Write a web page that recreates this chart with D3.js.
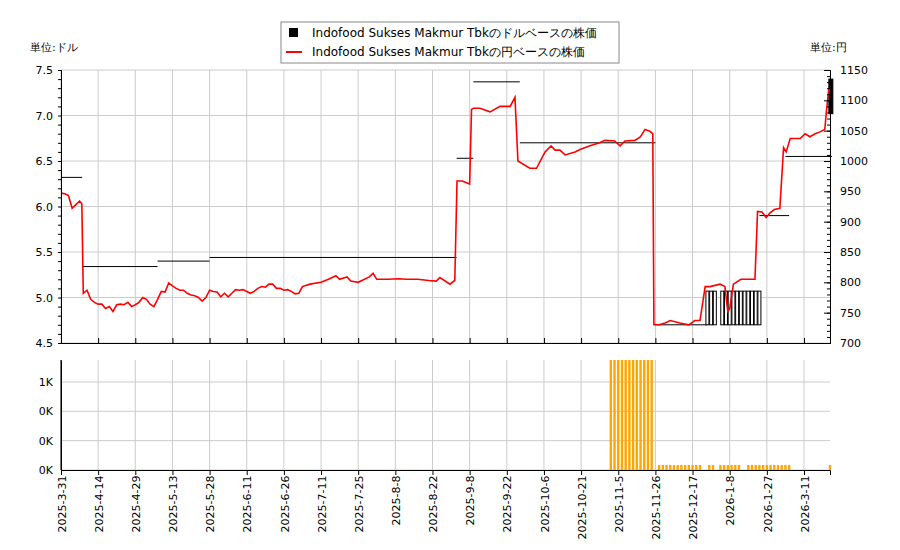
<!DOCTYPE html>
<html>
<head>
<meta charset="utf-8">
<script src="https://d3js.org/d3.v7.min.js"></script>
<style>
  body { margin: 0; background: #fff; }
  text { font-family: "DejaVu Sans", sans-serif; }
</style>
</head>
<body>
<svg id="chart" width="900" height="550"></svg>
<script>
// tick labels (one every 10 trading points)
var dateTicks = ["2025-3-31","2025-4-14","2025-4-29","2025-5-13","2025-5-28","2025-6-11","2025-6-26","2025-7-11","2025-7-25","2025-8-8","2025-8-22","2025-9-8","2025-9-22","2025-10-6","2025-10-21","2025-11-5","2025-11-26","2025-12-17","2026-1-8","2026-1-27","2026-3-11"];
var nPoints = 208;

// yen price: point index and value
var yenIdx = [0,1,2,3,4,5,5.6,6,7,8,9,10,11,12,13,14,15,16,17,18,19,20,21,22,23,24,25,26,27,28,29,30,31,32,33,34,35,36,37,38,39,40,41,42,43,44,45,46,47,48,49,50,51,52,53,54,55,56,57,58,59,60,61,62,63,64,65,67,70,72,74,75,77,78,80,83,84,85,88,91,93,96,99,101,102,104.7,106,106.6,108,110,110.5,111,112.8,115.5,118.2,120.9,122.2,123,126.2,128,130.3,131.9,133,134.3,135.7,138.4,139.7,142.4,145,146.4,149,150.5,151.8,154.5,156,157.2,158.5,159.3,159.6,161,162.6,164,166.6,169,170.6,172,173.4,174.7,177.4,178.7,179.5,180,181,183,186.8,187.5,188.7,189.8,190.8,192,193.5,194.5,195.2,196.3,199,200.3,201.6,203,204.3,205.6,206,206.7,207];
var yenVal = [947,946,943,922,928,934,930,782,787,772,767,764,764,757,760,752,763,764,763,767,760,763,767,775,772,764,760,772,785,784,799,794,790,787,787,782,779,778,775,769,775,787,785,784,776,782,776,782,788,787,788,785,782,785,790,793,792,797,797,790,790,787,788,785,781,782,793,797,800,805,811,805,809,802,800,809,815,805,805,806,805,805,803,802,808,797,803,967,967,962,1085,1087,1087,1081,1090,1090,1105,1000,988,988,1015,1025,1018,1018,1010,1015,1019,1025,1030,1034,1033,1025,1033,1034,1040,1052,1049,1045,730,730,733,737,733,730,737,737,793,793,797,793,752,757,797,805,805,917,916,907,914,920,922,1022,1015,1037,1037,1045,1040,1045,1048,1052,1080,1120,1115];

// USD price, flat segments: from index, to index, value
var usdFrom = [0,5.7,26,40,106.5,111,123.5,160,188,195];
var usdTo   = [5.7,26,40,106.5,111,123.5,160,174,196,207.5];
var usdVal  = [6.32,5.34,5.40,5.44,6.53,7.37,6.70,4.70,5.90,6.55];
// USD candles: index, low, high
var candleIdx = [174,175,176,178,179,180,181,182,183,184,185,186,187,188,207.5];
var candleLo  = [4.70,4.70,4.70,4.70,4.70,4.70,4.70,4.70,4.70,4.70,4.70,4.70,4.70,4.70,7.02];
var candleHi  = [5.07,5.07,5.07,5.07,5.07,5.07,5.07,5.07,5.07,5.07,5.07,5.07,5.07,5.07,7.40];

// volume
var volIdx = [148,149,150,151,152,153,154,155,156,157,158,159,161,162,163,164,165,166,167,168,169,170,171,172,174.5,175.5,177.5,178.5,179.5,180.5,181.5,182.5,185,186,187,188,189,190,191,192,193,194,195,196,207];
var volVal = [1312,1312,1312,1312,1312,1312,1312,1312,1312,1312,1312,1312,60,60,60,60,60,60,60,60,60,60,60,60,60,60,60,60,60,60,60,60,60,60,60,60,60,60,60,60,60,60,60,60,60];

var svg = d3.select("#chart");
var x = d3.scaleLinear().domain([0, nPoints - 1]).range([61, 830]);
var yL = d3.scaleLinear().domain([4.5, 7.5]).range([343, 70]);
var yR = d3.scaleLinear().domain([700, 1150]).range([343, 70]);
var yV = d3.scaleLinear().domain([0, 1312]).range([470, 360]);
var tickIdx = dateTicks.map(function(d, i) { return i * 10; });

// grid
var g = svg.append("g").attr("stroke", "#ccc").attr("stroke-width", 1);
tickIdx.forEach(function(t) {
  g.append("line").attr("x1", x(t)).attr("x2", x(t)).attr("y1", 70).attr("y2", 343);
  g.append("line").attr("x1", x(t)).attr("x2", x(t)).attr("y1", 360).attr("y2", 470);
});
d3.range(4.5, 7.51, 0.5).forEach(function(v) {
  g.append("line").attr("x1", 61).attr("x2", 830).attr("y1", yL(v)).attr("y2", yL(v));
});
[0, 350, 700, 1050].forEach(function(v) {
  g.append("line").attr("x1", 61).attr("x2", 830).attr("y1", yV(v)).attr("y2", yV(v));
});

// volume bars
svg.selectAll(".vol").data(volIdx).enter().append("rect")
  .attr("x", function(d) { return x(d) - 1.2; })
  .attr("width", 2.4)
  .attr("y", function(d, i) { return yV(volVal[i]); })
  .attr("height", function(d, i) { return 470 - yV(volVal[i]); })
  .attr("fill", "orange");

// usd segments
svg.selectAll(".seg").data(usdVal).enter().append("line")
  .attr("x1", function(d, i) { return x(usdFrom[i]); })
  .attr("x2", function(d, i) { return x(usdTo[i]); })
  .attr("y1", function(d) { return yL(d); })
  .attr("y2", function(d) { return yL(d); })
  .attr("stroke", "#000").attr("stroke-width", 1);

// usd candles
svg.selectAll(".cd").data(candleIdx).enter().append("rect")
  .attr("x", function(d, i) { return i === candleIdx.length - 1 ? x(d) - 3 : x(d) - 1.5; })
  .attr("width", function(d, i) { return i === candleIdx.length - 1 ? 4 : 3; })
  .attr("y", function(d, i) { return yL(candleHi[i]); })
  .attr("height", function(d, i) { return yL(candleLo[i]) - yL(candleHi[i]); })
  .attr("fill", function(d, i) { return i === candleIdx.length - 1 ? "#000" : "#fff"; })
  .attr("stroke", "#000").attr("stroke-width", 1);

// yen line
var line = d3.line()
  .x(function(d) { return x(d); })
  .y(function(d, i) { return yR(yenVal[i]); });
svg.append("path").attr("d", line(yenIdx))
  .attr("fill", "none").attr("stroke", "red").attr("stroke-width", 1.6);

// axes
function styleAxis(sel) {
  sel.selectAll("text").attr("font-size", 11).attr("fill", "#000");
  sel.select(".domain").attr("stroke", "#000");
}
var minor = d3.range(4.5, 7.501, 0.1);
svg.append("g").attr("transform", "translate(61,0)")
  .call(d3.axisLeft(yL).tickValues(minor).tickSize(3).tickFormat("")).call(styleAxis);
svg.append("g").attr("transform", "translate(61,0)")
  .call(d3.axisLeft(yL).tickValues(d3.range(4.5, 7.51, 0.5)).tickSize(0).tickPadding(8).tickFormat(d3.format(".1f")))
  .call(styleAxis);
svg.append("g").attr("transform", "translate(830,0)")
  .call(d3.axisRight(yR).tickValues(d3.range(700, 1151, 10)).tickSize(-3).tickFormat("")).call(styleAxis);
svg.append("g").attr("transform", "translate(830,0)")
  .call(d3.axisRight(yR).tickValues(d3.range(700, 1151, 50)).tickSize(-6).tickPadding(10).tickFormat(d3.format("d")))
  .call(styleAxis);
svg.append("g").attr("transform", "translate(0,343)")
  .call(d3.axisBottom(x).tickValues(tickIdx).tickSize(-5).tickFormat("")).call(styleAxis);
svg.append("line").attr("x1", 61).attr("x2", 61).attr("y1", 360).attr("y2", 470).attr("stroke", "#000");
svg.append("g").attr("transform", "translate(61,0)")
  .call(d3.axisLeft(yV).tickValues([0, 350, 700, 1050]).tickSize(0).tickPadding(8)
    .tickFormat(function(v) { return Math.floor(v / 1000) + "K"; }))
  .call(styleAxis);
var xb = svg.append("g").attr("transform", "translate(0,470)")
  .call(d3.axisBottom(x).tickValues(tickIdx).tickSize(5)
    .tickFormat(function(d, i) { return dateTicks[i]; }))
  .call(styleAxis);
xb.selectAll("text").attr("transform", "rotate(-90)").attr("text-anchor", "end")
  .attr("dx", "-0.5em").attr("dy", "-0.35em").attr("x", 0).attr("y", 8);

// unit labels
svg.append("text").attr("x", 30).attr("y", 51).attr("font-size", 11).text("単位:ドル");
svg.append("text").attr("x", 810).attr("y", 51).attr("font-size", 11).text("単位:円");

// legend
var lg = svg.append("g");
lg.append("rect").attr("x", 281).attr("y", 22).attr("width", 338).attr("height", 41)
  .attr("fill", "#fff").attr("stroke", "#888");
lg.append("rect").attr("x", 289).attr("y", 28).attr("width", 9).attr("height", 9).attr("fill", "#000");
lg.append("line").attr("x1", 286).attr("x2", 302).attr("y1", 52).attr("y2", 52).attr("stroke", "red").attr("stroke-width", 2);
var legendNames = ["Indofood Sukses Makmur Tbkのドルベースの株価", "Indofood Sukses Makmur Tbkの円ベースの株価"];
legendNames.forEach(function(n, i) {
  lg.append("text").attr("x", 312).attr("y", 37 + i * 19).attr("font-size", 12)
    .attr("font-family", "'DejaVu Sans Mono', monospace").text(n);
});
</script>
</body>
</html>
